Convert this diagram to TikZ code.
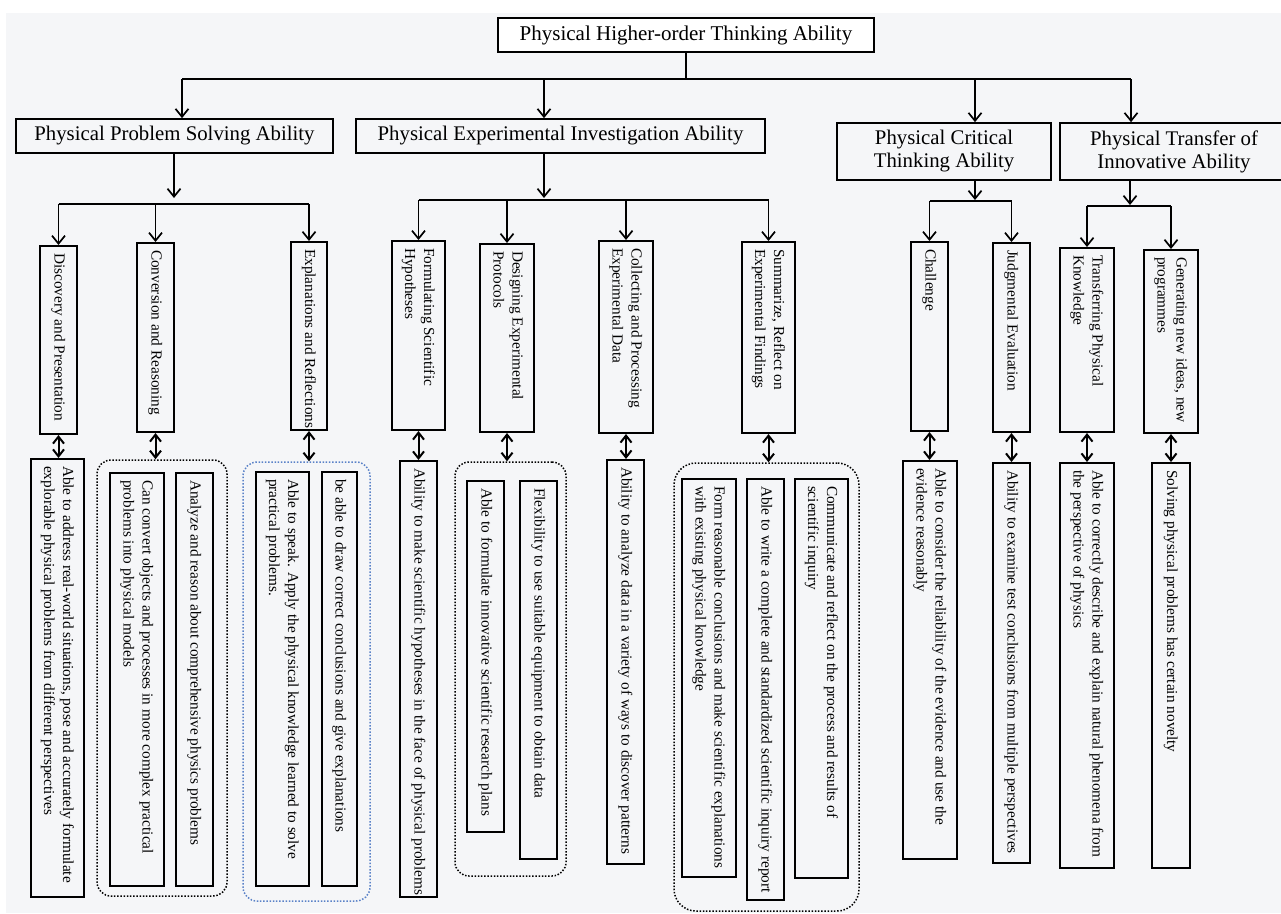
\documentclass[tikz,border=0pt]{standalone}
\usepackage{fontspec}
\setmainfont{Liberation Serif}
\usetikzlibrary{arrows.meta}
\definecolor{bgc}{HTML}{F5F6F8}
\definecolor{grpblue}{HTML}{5A82C8}
\tikzset{
  ln/.style={line width=1.7pt},
  arr/.style={line width=1.7pt, -{Straight Barb[length=8pt,width=13pt]}},
  darr/.style={line width=2pt, {Straight Barb[length=7pt,width=11pt]}-{Straight Barb[length=7pt,width=11pt]}},
  topbox/.style={draw, line width=1.3pt, fill=white, inner sep=0pt, font=\fontsize{21}{25}\selectfont},
  lvlbox/.style={draw, line width=1.7pt, inner sep=0pt, align=center, font=\fontsize{20.8}{23}\selectfont},
  vbox/.style={draw, line width=2pt, inner sep=0pt, font=\fontsize{15.3}{19}\selectfont},
  grp/.style={draw, line width=1.5pt, dash pattern=on 1.5pt off 1.7pt, rounded corners=14pt, inner sep=0pt},
}
\newcommand{\VT}[2]{\rotatebox{-90}{\parbox{#1}{\begin{tabular}{@{}l@{}}#2\end{tabular}}}}
% name, x1, y1, x2, y2, text
\newcommand{\VBox}[6]{%
  \node[vbox, minimum width={(#4)-(#2)}, minimum height={(#5)-(#3)}] (#1)
    at ({((#2)+(#4))/2},{((#3)+(#5))/2}) {\VT{\dimexpr #5pt-#3pt-14pt\relax}{#6}};}
\newcommand{\Grp}[6]{%
  \node[grp, #6, minimum width={(#4)-(#2)}, minimum height={(#5)-(#3)}] (#1)
    at ({((#2)+(#4))/2},{((#3)+(#5))/2}) {};}
\begin{document}
\begin{tikzpicture}[x=1pt, y=-1pt]
\useasboundingbox (0,0) rectangle (1281,913);
\fill[white] (0,0) rectangle (1281,913);
\fill[bgc] (6,13) rectangle (1281,913);

% top and level 1
\node[topbox, minimum width=376pt, minimum height=34pt] (top) at (686,35) {Physical Higher-order Thinking Ability};
\node[lvlbox, minimum width=317pt, minimum height=34pt] (ppsa) at (174.5,136) {Physical Problem Solving Ability};
\node[lvlbox, minimum width=409pt, minimum height=34pt] (peia) at (560.5,136) {Physical Experimental Investigation Ability};
\node[lvlbox, minimum width=214pt, minimum height=57pt] (pcta) at (944,151.5) {Physical Critical\\Thinking Ability};
\node[lvlbox, minimum width=228pt, minimum height=57pt] (ptia) at (1174,151.5) {Physical Transfer of\\Innovative Ability};

% level 2
\VBox{disc}{40}{246}{77}{434}{Discovery and Presentation}
\VBox{conv}{137}{243}{174}{432}{Conversion and Reasoning}
\VBox{expl}{291}{242}{327}{430}{Explanations and Reflections}
\VBox{form}{392}{241}{445}{430}{Formulating Scientific\\Hypotheses}
\VBox{desi}{480}{244}{534}{432}{Designing Experimental\\Protocols}
\VBox{coll}{599}{241}{653}{433}{Collecting and Processing\\Experimental Data}
\VBox{summ}{742}{242}{795}{433}{Summarize, Reflect on\\Experimental Findings}
\VBox{chal}{911}{242}{948}{431}{Challenge}
\VBox{judg}{993}{243}{1030}{432}{Judgmental Evaluation}
\VBox{tran}{1060}{248}{1114}{432}{Transferring Physical\\Knowledge}
\VBox{gene}{1144}{250}{1198}{433}{Generating new ideas, new\\programmes}

% groups
\Grp{g1}{97}{460}{227}{896}{black}
\Grp{g2}{243}{462}{370}{901}{grpblue}
\Grp{g3}{455}{462}{566}{876}{black}
\Grp{g4}{674}{463}{859}{911}{black, rounded corners=22pt}

% level 3
\VBox{addr}{31}{459}{84}{897}{Able to address real-world situations, pose and accurately formulate\\explorable physical problems from different perspectives}
\VBox{cnvt}{110}{473}{164}{886}{Can convert objects and processes in more complex practical\\problems into physical models}
\VBox{anlz}{176}{473}{213}{886}{Analyze and reason about comprehensive physics problems}
\VBox{spek}{256}{472}{309}{886}{Able to speak. Apply the physical knowledge learned to solve\\practical problems.}
\VBox{draw}{322}{472}{357}{886}{be able to draw correct conclusions and give explanations}
\VBox{hypo}{400}{461}{437}{897}{Ability to make scientific hypotheses in the face of physical problems}
\VBox{plan}{467}{481}{504}{832}{Able to formulate innovative scientific research plans}
\VBox{flex}{520}{481}{557}{859}{Flexibility to use suitable equipment to obtain data}
\VBox{data}{607}{460}{644}{864}{Ability to analyze data in a variety of ways to discover patterns}
\VBox{frmc}{682}{479}{736}{877}{Form reasonable conclusions and make scientific explanations\\with existing physical knowledge}
\VBox{writ}{747}{479}{784}{900}{Able to write a complete and standardized scientific inquiry report}
\VBox{comm}{795}{479}{848}{878}{Communicate and reflect on the process and results of\\scientific inquiry}
\VBox{cons}{903}{461}{957}{859}{Able to consider the reliability of the evidence and use the\\evidence reasonably}
\VBox{exam}{993}{463}{1030}{863}{Ability to examine test conclusions from multiple perspectives}
\VBox{desc}{1060}{463}{1114}{868}{Able to correctly describe and explain natural phenomena from\\the perspective of physics}
\VBox{solv}{1152}{463}{1190}{868}{Solving physical problems has certain novelty}

% top connectors
\coordinate (a1) at (182,79);
\coordinate (a2) at (544,79);
\coordinate (a3) at (975,79);
\coordinate (a4) at (1131,79);
\draw[ln] (top.south) -- (top.south |- a1);
\draw[ln] (a1) -- (a4);
\draw[arr] (a1) -- (a1 |- ppsa.north);
\draw[arr] (a2) -- (a2 |- peia.north);
\draw[arr] (a3) -- (a3 |- pcta.north);
\draw[arr] (a4) -- (a4 |- ptia.north);

% PPSA branch
\coordinate (s1) at (174,204);
\draw[arr] (ppsa.south -| s1) -- ([yshift=6pt]s1);
\draw[ln] (disc.north |- s1) -- (expl.north |- s1);
\foreach \c in {disc,conv,expl} \draw[arr] (\c.north |- s1) -- (\c.north);

% PEIA branch
\coordinate (s2) at (544,200);
\draw[arr] (peia.south -| s2) -- ([yshift=2pt]s2);
\draw[ln] (form.north |- s2) -- (summ.north |- s2);
\foreach \c in {form,desi,coll,summ} \draw[arr] (\c.north |- s2) -- (\c.north);

% PCTA branch
\coordinate (s3) at (975,201);
\draw[arr] (pcta.south -| s3) -- ([yshift=1pt]s3);
\draw[ln] (chal.north |- s3) -- (judg.north |- s3);
\foreach \c in {chal,judg} \draw[arr] (\c.north |- s3) -- (\c.north);

% PTIA branch
\coordinate (s4) at (1130,206);
\draw[arr] (ptia.south -| s4) -- ([yshift=1pt]s4);
\draw[ln] (tran.north |- s4) -- (gene.north |- s4);
\foreach \c in {tran,gene} \draw[arr] (\c.north |- s4) -- (\c.north);

% double arrows
\draw[darr] (disc.south) -- (disc.south |- addr.north);
\draw[darr] (conv.south) -- (conv.south |- g1.north);
\draw[darr] (expl.south) -- (expl.south |- g2.north);
\draw[darr] (form.south) -- (form.south |- hypo.north);
\draw[darr] (desi.south) -- (desi.south |- g3.north);
\draw[darr] (coll.south) -- (coll.south |- data.north);
\draw[darr] (summ.south) -- (summ.south |- g4.north);
\draw[darr] (chal.south) -- (chal.south |- cons.north);
\draw[darr] (judg.south) -- (judg.south |- exam.north);
\draw[darr] (tran.south) -- (tran.south |- desc.north);
\draw[darr] (gene.south) -- (gene.south |- solv.north);
\end{tikzpicture}
\end{document}
